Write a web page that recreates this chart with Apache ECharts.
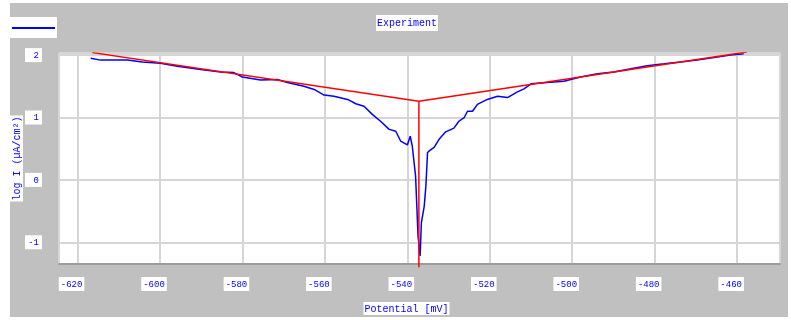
<!DOCTYPE html>
<html>
<head>
<meta charset="utf-8">
<script src="https://cdn.jsdelivr.net/npm/echarts@6/dist/echarts.min.js"></script>
<style>
html,body{margin:0;padding:0;background:#fff;}
#chart{width:791px;height:320px;}
</style>
</head>
<body>
<div id="chart"></div>
<script>
// Measured curve (Experiment): potential [mV] and log I
const potential = [-616.8,-614.4,-607.9,-604.3,-599.9,-595.8,-590.1,-585.3,-582.1,-580.0,-575.6,-571.5,-569.1,-565.1,-562.6,-560.2,-557.8,-554.5,-552.5,-550.5,-548.5,-546.5,-544.4,-542.8,-541.6,-540.0,-539.3,-538.8,-538.0,-537.7,-537.4,-536.9,-536.6,-535.9,-535.5,-535.1,-534.6,-533.5,-532.3,-530.7,-528.7,-527.5,-526.2,-525.4,-524.2,-523.0,-520.6,-518.1,-515.7,-513.3,-511.7,-510.0,-506.0,-502.0,-498.0,-493.9,-489.9,-485.8,-481.8,-477.7,-473.7,-469.7,-465.6,-461.6,-458.4];
const logI = [1.95,1.92,1.92,1.89,1.87,1.82,1.77,1.73,1.72,1.65,1.60,1.61,1.56,1.50,1.45,1.36,1.34,1.29,1.22,1.18,1.05,0.94,0.81,0.78,0.62,0.56,0.70,0.54,0.06,-0.42,-0.90,-1.22,-0.69,-0.42,-0.10,0.44,0.47,0.52,0.65,0.77,0.83,0.94,1.00,1.10,1.10,1.21,1.29,1.34,1.32,1.41,1.46,1.54,1.56,1.58,1.65,1.70,1.73,1.78,1.83,1.86,1.89,1.92,1.96,2.00,2.02];
// Tafel fit lines
const fitPotential = [-616.4,-537.2,-457.6];
const fitLogI = [2.04,1.26,2.05];
// Corrosion potential marker
const ecorrPotential = [-537.2,-537.2];
const ecorrLogI = [1.26,-1.40];
// Axis ranges
const xMin = -624.5, xMax = -449.6;
const yMin = -1.348, yMax = 2.034;

const blueData = potential.map((p,i)=>[p,logI[i]]);
const fitData = fitPotential.map((p,i)=>[p,fitLogI[i]]);
const ecorrData = ecorrPotential.map((p,i)=>[p,ecorrLogI[i]]);

const FONT = 'Liberation Mono';
const chart = echarts.init(document.getElementById('chart'), null, {renderer:'canvas'});
chart.setOption({
  animation:false,
  backgroundColor:'#ffffff',
  graphic:[{type:'rect', z:-100, silent:true, shape:{x:10,y:3,width:778,height:314}, style:{fill:'#c0c0c0'}}],
  title:{text:'Experiment', left:376, top:15, padding:[3,1,3,1], backgroundColor:'#ffffff',
    textStyle:{color:'#0000ff', fontFamily:FONT, fontSize:10, fontWeight:'normal'}},
  legend:{data:[{name:'Experiment', icon:'rect'}], left:10, top:17, padding:[10,2,9,2], itemWidth:43, itemHeight:2, itemGap:0,
    backgroundColor:'#ffffff', formatter:()=>'', textStyle:{fontSize:1}},
  grid:{left:59, top:53, right:11, bottom:56, containLabel:false, outerBoundsMode:'none', show:true, backgroundColor:'#ffffff', borderColor:'#c4c4c4', borderWidth:2},
  xAxis:{type:'value', min:xMin, max:xMax, splitNumber:9,
    axisLine:{show:true, onZero:false, lineStyle:{color:'#9c9c9c', width:2}},
    axisTick:{show:false},
    splitLine:{show:true, lineStyle:{color:'#d6d6d6', width:2}},
    axisLabel:{margin:13, padding:[0,12,0,0],
      formatter:v=> (Math.abs(v%20)<1e-6 ? '{a|'+Math.round(v)+'}' : ''),
      rich:{a:{backgroundColor:'#ffffff', padding:[3,2,2,2], color:'#0000ff', fontSize:9, fontFamily:FONT}}},
    name:'{n|Potential [mV]}', nameLocation:'middle', nameGap:38, nameMoveOverlap:false,
    nameTextStyle:{padding:[0,26,0,0], rich:{n:{backgroundColor:'#ffffff', padding:[2,1,1,1], color:'#0000ff', fontSize:10, fontFamily:FONT}}}
  },
  yAxis:{type:'value', min:yMin, max:yMax, splitNumber:3,
    axisLine:{show:false}, axisTick:{show:false},
    splitLine:{show:true, lineStyle:{color:'#d6d6d6', width:2}},
    axisLabel:{margin:17,
      formatter:v=> (Math.abs(v-Math.round(v))<1e-6 ? '{a|'+Math.round(v)+'}' : ''),
      rich:{a:{backgroundColor:'#ffffff', padding:[3,3,2,3], width:11, align:'right', color:'#0000ff', fontSize:9, fontFamily:FONT}}},
    name:'log I (µA/cm²)', nameLocation:'middle', nameGap:36, nameRotate:90, nameMoveOverlap:false,
    nameTextStyle:{backgroundColor:'#ffffff', padding:[2,1,1,1], color:'#0000ff', fontSize:10, fontFamily:FONT}
  },
  series:[
    {name:'Experiment', type:'line', data:blueData, symbol:'none', lineStyle:{color:'#0000ff', width:1.5}, itemStyle:{color:'#0000ff'}, z:2},
    {name:'Tafel fit', type:'line', data:fitData, symbol:'none', lineStyle:{color:'#ff0000', width:1.5}, itemStyle:{color:'#ff0000'}, z:3},
    {name:'Ecorr', type:'line', data:ecorrData, symbol:'none', clip:false, lineStyle:{color:'#ff0000', width:1.5}, itemStyle:{color:'#ff0000'}, z:3}
  ]
});
</script>
</body>
</html>
